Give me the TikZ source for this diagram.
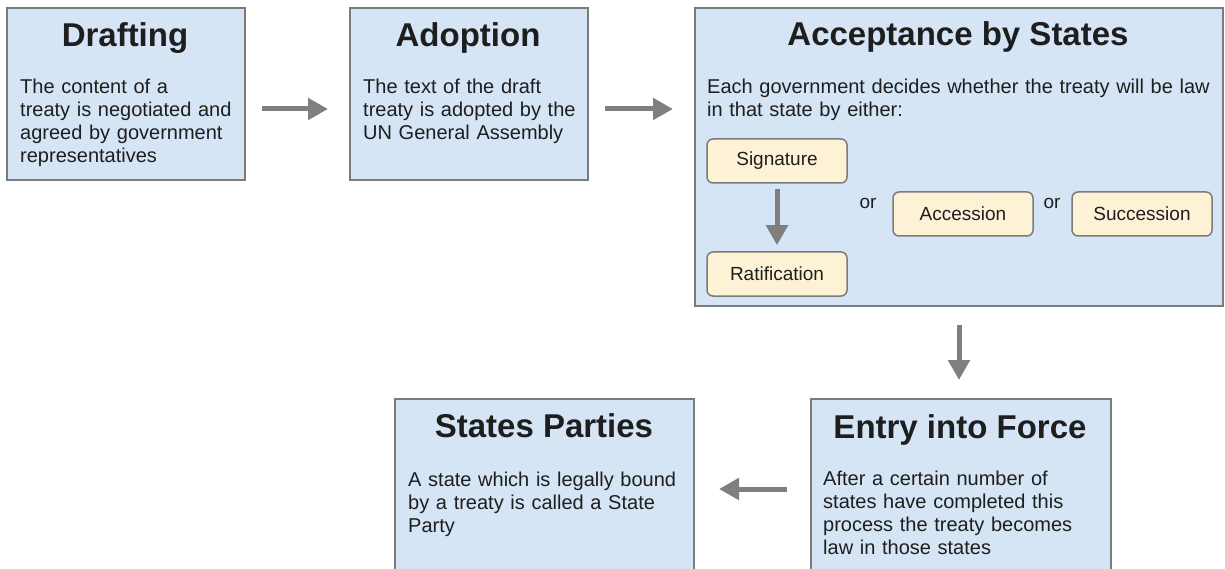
\documentclass[tikz,border=0pt]{standalone}
\usepackage{fontspec}
\setmainfont{Liberation Sans}
\usetikzlibrary{arrows.meta}
\definecolor{boxfill}{HTML}{D5E5F5}
\definecolor{boxline}{HTML}{7B7B7B}
\definecolor{optfill}{HTML}{FDF2D6}
\definecolor{arrowgray}{HTML}{7F7F7F}
\definecolor{txt}{HTML}{1E1E1E}
\begin{document}
\begin{tikzpicture}[x=1pt,y=-1pt,
  bigbox/.style={draw=boxline, line width=2pt, fill=boxfill, anchor=north west, inner sep=0pt},
  optbox/.style={draw=boxline, line width=1.5pt, fill=optfill, rounded corners=6pt,
    minimum width=140pt, minimum height=44pt, inner sep=0pt,
    font=\fontsize{19}{22}\selectfont, text=txt},
  titletext/.style={anchor=base, inner sep=0pt, font=\fontsize{33}{36}\selectfont\bfseries, text=txt},
  bodytext/.style={anchor=base west, inner sep=0pt, align=left, text width=300pt,
    font=\fontsize{20}{23}\selectfont, text=txt},
  ortext/.style={anchor=base, inner sep=0pt, font=\fontsize{19}{22}\selectfont, text=txt},
  flow/.style={draw=arrowgray, line width=5pt, -{Triangle[length=20pt,width=21pt]}}
]
\useasboundingbox (0,0) rectangle (1225,569);
\fill[white] (0,0) rectangle (1225,569);

% main boxes
\node[bigbox, minimum width=238pt, minimum height=172pt] (drafting) at (6,7) {};
\node[bigbox, minimum width=238pt, minimum height=172pt] (adoption) at (349,7) {};
\node[bigbox, minimum width=528pt, minimum height=298pt] (acceptance) at (694,7) {};
\node[bigbox, minimum width=300pt, minimum height=172pt] (entry) at (810,398) {};
\node[bigbox, minimum width=299pt, minimum height=172pt] (parties) at (394,398) {};

% titles
\node[titletext] (tdraft) at (125,47) {Drafting};
\node[titletext] (tadopt) at (468,47) {Adoption};
\node[titletext] (taccept) at (958,46) {Acceptance by States};
\node[titletext] (tentry) at (960,438) {Entry into Force};
\node[titletext] (tparties) at (544,437) {States Parties};

% bodies
\node[bodytext] (bdraft) at (20,94) {The content of a\\treaty is negotiated and\\agreed by government\\representatives};
\node[bodytext] (badopt) at (363,94) {The text of the draft\\treaty is adopted by the\\UN General Assembly};
\node[bodytext, text width=510pt] (baccept) at (707,94) {Each government decides whether the treaty will be law\\in that state by either:};
\node[bodytext] (bentry) at (823,485) {After a certain number of\\states have completed this\\process the treaty becomes\\law in those states};
\node[bodytext] (bparties) at (408,486) {A state which is legally bound\\by a treaty is called a State\\Party};

% option boxes
\node[optbox] (sig) at (777,161) {Signature};
\node[optbox, minimum height=44pt] (rat) at (777,274) {Ratification};
\node[optbox] (acc) at (963,214) {Accession};
\node[optbox] (succ) at (1142,214) {Succession};
\node[ortext] (or1) at (868,209) {or};
\node[ortext] (or2) at (1052,209) {or};

% connectors
\draw[flow, shorten <=16pt, shorten >=21pt] ([yshift=-15pt]drafting.east) -- ([yshift=-15pt]adoption.west);
\draw[flow, shorten <=16pt, shorten >=21pt] ([yshift=-15pt]adoption.east) -- ([yshift=-15pt]adoption.east -| acceptance.west);
\draw[flow, shorten <=18pt, shorten >=18pt] (acceptance.south) -- (acceptance.south |- entry.north);
\draw[flow, shorten <=23pt, shorten >=24pt] ([yshift=-4pt]entry.west) -- ([yshift=-4pt]entry.west -| parties.east);
\draw[flow, shorten <=5pt, shorten >=6pt] (sig.south) -- (rat.north);
\end{tikzpicture}
\end{document}
